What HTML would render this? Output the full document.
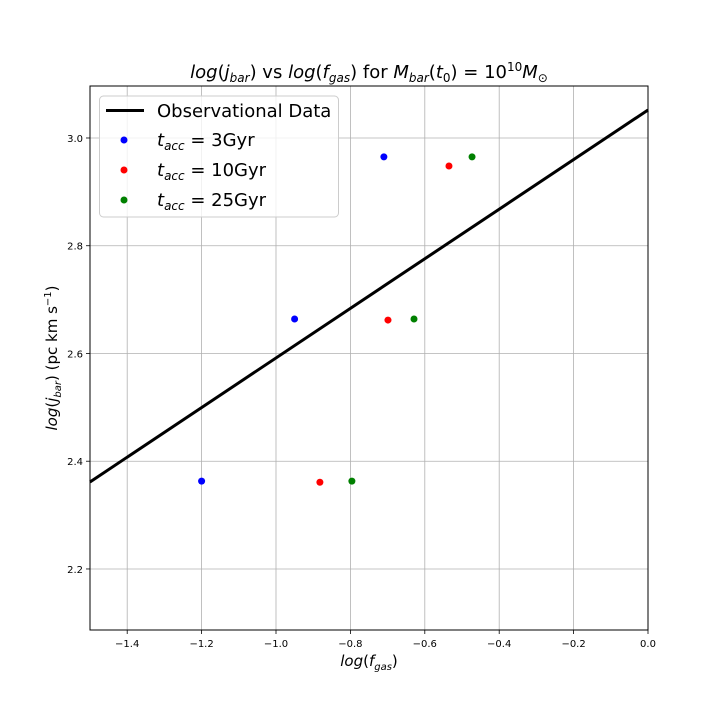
<!DOCTYPE html>
<html><head><meta charset="utf-8"><style>
body{margin:0;background:#fff;}
svg text{font-family:"DejaVu Sans","Liberation Sans",sans-serif;}
</style></head><body>
<svg id="chart" width="720" height="720" xmlns="http://www.w3.org/2000/svg"></svg>
<script>
const xTicks=[-1.4,-1.2,-1.0,-0.8,-0.6,-0.4,-0.2,0.0];
const xTickLabels=["\u22121.4","\u22121.2","\u22121.0","\u22120.8","\u22120.6","\u22120.4","\u22120.2","0.0"];
const yTicks=[2.2,2.4,2.6,2.8,3.0];
const yTickLabels=["2.2","2.4","2.6","2.8","3.0"];
const lineX=[-1.5,0.0];
const lineY=[2.3615,3.052];
const blueX=[-1.2,-0.95,-0.71];
const blueY=[2.363,2.664,2.965];
const redX=[-0.882,-0.699,-0.535];
const redY=[2.361,2.662,2.948];
const greenX=[-0.796,-0.629,-0.473];
const greenY=[2.363,2.664,2.965];

const L=90,R=648,T=86,B=630;
const xmin=-1.5,xmax=0.0,ymin=2.0867,ymax=3.0965;
const sx=v=>L+(v-xmin)/(xmax-xmin)*(R-L);
const sy=v=>B-(v-ymin)/(ymax-ymin)*(B-T);
const svg=document.getElementById('chart');
const NS="http://www.w3.org/2000/svg";
function mk(tag,attrs,text){const e=document.createElementNS(NS,tag);for(const k in attrs)e.setAttribute(k,attrs[k]);if(text!==undefined)e.textContent=text;svg.appendChild(e);return e;}

xTicks.forEach((t,i)=>{
  const g=mk('line',{x1:sx(t),x2:sx(t),y1:T,y2:B,stroke:'#b0b0b0','stroke-width':0.8});
  
  
  mk('line',{x1:sx(t),x2:sx(t),y1:B,y2:B+4,stroke:'#000','stroke-width':0.8});
  const tl=mk('text',{x:sx(t),y:B+17,'font-size':10,'text-anchor':'middle'},xTickLabels[i]);
  
  
});
yTicks.forEach((t,i)=>{
  const g=mk('line',{x1:L,x2:R,y1:sy(t),y2:sy(t),stroke:'#b0b0b0','stroke-width':0.8});
  
  
  mk('line',{x1:L-4,x2:L,y1:sy(t),y2:sy(t),stroke:'#000','stroke-width':0.8});
  const tl=mk('text',{x:L-7,y:sy(t)+4,'font-size':10,'text-anchor':'end'},yTickLabels[i]);
  
  
});
const ln=mk('line',{x1:sx(lineX[0]),y1:sy(lineY[0]),x2:sx(lineX[1]),y2:sy(lineY[1]),stroke:'#000','stroke-width':3});


function pts(xs,ys,c,n){xs.forEach((x,i)=>{const p=mk('circle',{cx:sx(x),cy:sy(ys[i]),r:3.5,fill:c});

});}
pts(blueX,blueY,'#0000ff','point-tacc-3gyr');
pts(redX,redY,'#ff0000','point-tacc-10gyr');
pts(greenX,greenY,'#008000','point-tacc-25gyr');
const fr=mk('rect',{x:L,y:T,width:R-L,height:B-T,fill:'none',stroke:'#000','stroke-width':1});


</script>
<svg style="position:absolute;left:0;top:0" width="720" height="720" xmlns="http://www.w3.org/2000/svg">
<text x="369" y="78" font-size="18" text-anchor="middle" font-family="DejaVu Sans,sans-serif"><tspan font-style="italic">log</tspan>(<tspan font-style="italic">j</tspan><tspan font-style="italic" font-size="12" dy="4">bar</tspan><tspan dy="-4">) vs </tspan><tspan font-style="italic">log</tspan>(<tspan font-style="italic">f</tspan><tspan font-style="italic" font-size="12" dy="4">gas</tspan><tspan dy="-4">) for </tspan><tspan font-style="italic">M</tspan><tspan font-style="italic" font-size="12" dy="4">bar</tspan><tspan dy="-4">(</tspan><tspan font-style="italic">t</tspan><tspan font-size="12" dy="4">0</tspan><tspan dy="-4">) = 10</tspan><tspan font-size="12" dy="-7">10</tspan><tspan font-style="italic" dy="7">M</tspan><tspan font-size="12" dy="4">⊙</tspan></text>
<text x="369" y="666" font-size="15" text-anchor="middle" font-family="DejaVu Sans,sans-serif"><tspan font-style="italic">log</tspan>(<tspan font-style="italic">f</tspan><tspan font-style="italic" font-size="10" dy="4">gas</tspan><tspan dy="-4">)</tspan></text>
<text transform="translate(57,358) rotate(-90)" font-size="15" text-anchor="middle" font-family="DejaVu Sans,sans-serif"><tspan font-style="italic">log</tspan>(<tspan font-style="italic">j</tspan><tspan font-style="italic" font-size="10" dy="4">bar</tspan><tspan dy="-4">) (pc km s</tspan><tspan font-size="10" dy="-6">−1</tspan><tspan dy="6">)</tspan></text>
<g font-family="DejaVu Sans,sans-serif" font-size="18">
<rect x="99.5" y="96" width="239" height="121" rx="4" fill="#fff" fill-opacity="0.8" stroke="#ccc"/>
<line x1="106" y1="110.5" x2="144" y2="110.5" stroke="#000" stroke-width="3"/>
<text x="157" y="117">Observational Data</text>
<circle cx="124" cy="140" r="3.5" fill="#0000ff"/>
<text x="157" y="146"><tspan font-style="italic">t</tspan><tspan font-style="italic" font-size="12" dy="4">acc</tspan><tspan dy="-4"> = 3Gyr</tspan></text>
<circle cx="124" cy="170" r="3.5" fill="#ff0000"/>
<text x="157" y="176"><tspan font-style="italic">t</tspan><tspan font-style="italic" font-size="12" dy="4">acc</tspan><tspan dy="-4"> = 10Gyr</tspan></text>
<circle cx="124" cy="200" r="3.5" fill="#008000"/>
<text x="157" y="206"><tspan font-style="italic">t</tspan><tspan font-style="italic" font-size="12" dy="4">acc</tspan><tspan dy="-4"> = 25Gyr</tspan></text>
</g>
</svg>
</body></html>
